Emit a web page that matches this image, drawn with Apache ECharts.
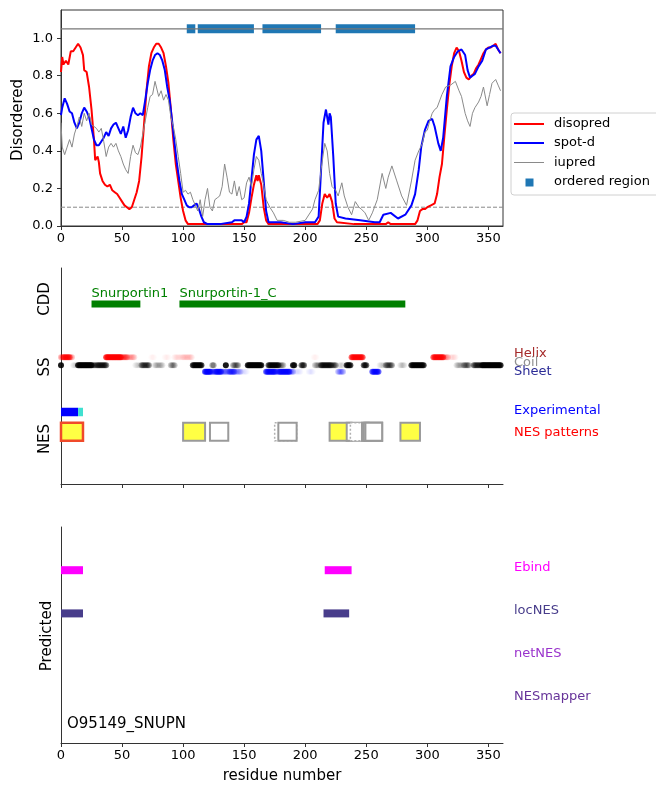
<!DOCTYPE html>
<html><head><meta charset="utf-8">
<script src="https://cdn.jsdelivr.net/npm/echarts@6/dist/echarts.min.js"></script>
<style>html,body{margin:0;padding:0;background:#fff}#c{width:656px;height:787px}</style>
</head><body><div id="c"></div>
<script>
// ---------------- data ----------------
const xTicks = [0, 50, 100, 150, 200, 250, 300, 350];
const yTicks = [0, 0.2, 0.4, 0.6, 0.8, 1.0];

const disopred = [[0,0.82],[1,0.9],[2,0.86],[4,0.88],[6,0.86],[8,0.93],[10,0.93],[12,0.95],[14,0.97],[16,0.95],[18,0.91],[19,0.83],[21,0.82],[23,0.74],[25,0.62],[27,0.46],[28,0.35],[30,0.37],[31,0.34],[32,0.28],[34,0.24],[36,0.22],[38,0.21],[40,0.22],[42,0.19],[44,0.18],[46,0.17],[48,0.15],[50,0.13],[52,0.11],[54,0.10],[56,0.09],[58,0.10],[60,0.14],[62,0.18],[64,0.24],[66,0.37],[68,0.54],[70,0.72],[72,0.85],[74,0.92],[76,0.95],[78,0.97],[80,0.97],[82,0.95],[84,0.92],[86,0.85],[88,0.76],[90,0.62],[92,0.46],[94,0.33],[96,0.24],[98,0.15],[100,0.08],[102,0.03],[104,0.01],[110,0.01],[120,0.01],[130,0.01],[140,0.01],[148,0.01],[150,0.02],[152,0.02],[154,0.07],[156,0.15],[158,0.22],[160,0.27],[161,0.24],[162,0.27],[164,0.22],[166,0.10],[168,0.03],[170,0.01],[180,0.01],[190,0.01],[200,0.01],[210,0.01],[212,0.03],[214,0.12],[216,0.17],[218,0.15],[220,0.17],[222,0.13],[224,0.04],[226,0.02],[240,0.01],[260,0.01],[266,0.01],[268,0.02],[270,0.01],[290,0.01],[292,0.03],[294,0.08],[296,0.09],[298,0.09],[300,0.10],[303,0.11],[306,0.12],[308,0.17],[310,0.26],[312,0.33],[314,0.48],[316,0.62],[318,0.75],[320,0.85],[322,0.92],[324,0.95],[326,0.93],[328,0.88],[330,0.82],[332,0.79],[334,0.78],[336,0.80],[338,0.81],[340,0.84],[342,0.86],[344,0.89],[346,0.92],[348,0.94],[350,0.95],[352,0.95],[354,0.96],[356,0.97],[358,0.94],[360,0.92]];

const spotd = [[0,0.59],[1,0.63],[3,0.68],[5,0.65],[7,0.61],[9,0.60],[11,0.55],[13,0.52],[15,0.55],[17,0.60],[19,0.63],[21,0.61],[23,0.58],[25,0.52],[27,0.46],[29,0.43],[31,0.43],[33,0.45],[35,0.47],[37,0.50],[39,0.48],[41,0.52],[43,0.54],[45,0.55],[47,0.52],[49,0.49],[51,0.53],[53,0.47],[55,0.51],[57,0.58],[59,0.63],[61,0.60],[63,0.59],[65,0.60],[67,0.59],[69,0.67],[71,0.76],[73,0.83],[75,0.88],[77,0.91],[79,0.92],[81,0.91],[83,0.88],[85,0.83],[87,0.74],[89,0.67],[91,0.56],[93,0.44],[95,0.33],[97,0.24],[99,0.17],[101,0.14],[103,0.11],[105,0.10],[107,0.10],[109,0.11],[111,0.12],[113,0.09],[115,0.05],[117,0.02],[120,0.01],[130,0.01],[140,0.02],[142,0.03],[145,0.03],[148,0.03],[150,0.02],[152,0.05],[154,0.12],[156,0.25],[158,0.38],[160,0.46],[162,0.48],[164,0.40],[166,0.24],[168,0.08],[170,0.02],[180,0.02],[190,0.01],[200,0.02],[208,0.02],[211,0.05],[213,0.30],[215,0.55],[217,0.62],[219,0.54],[220,0.60],[221,0.58],[223,0.37],[225,0.12],[227,0.05],[233,0.04],[245,0.03],[257,0.02],[261,0.02],[264,0.06],[270,0.07],[276,0.04],[282,0.06],[287,0.11],[290,0.17],[293,0.30],[295,0.42],[298,0.51],[301,0.56],[304,0.57],[306,0.53],[309,0.44],[311,0.40],[313,0.47],[316,0.69],[319,0.85],[322,0.90],[325,0.93],[328,0.94],[331,0.91],[333,0.83],[335,0.79],[337,0.80],[339,0.81],[342,0.85],[345,0.88],[348,0.94],[351,0.95],[354,0.96],[356,0.96],[358,0.94],[360,0.92]];

const iupred = [[0,0.55],[1,0.42],[3,0.38],[5,0.42],[7,0.46],[9,0.42],[11,0.49],[13,0.53],[15,0.58],[17,0.53],[19,0.60],[21,0.56],[23,0.60],[25,0.54],[27,0.53],[29,0.52],[31,0.50],[33,0.52],[35,0.45],[37,0.37],[39,0.42],[41,0.44],[43,0.42],[45,0.44],[47,0.40],[49,0.37],[51,0.33],[53,0.30],[55,0.28],[57,0.37],[59,0.43],[61,0.39],[63,0.38],[65,0.42],[67,0.49],[69,0.56],[71,0.63],[73,0.69],[75,0.70],[77,0.77],[78,0.78],[80,0.69],[82,0.72],[84,0.67],[86,0.70],[88,0.67],[90,0.58],[92,0.53],[94,0.46],[96,0.37],[98,0.28],[100,0.18],[102,0.19],[104,0.17],[106,0.18],[108,0.14],[110,0.11],[112,0.08],[114,0.14],[116,0.05],[118,0.14],[120,0.20],[122,0.10],[124,0.08],[126,0.14],[128,0.15],[130,0.16],[132,0.21],[134,0.33],[136,0.26],[138,0.18],[140,0.17],[142,0.24],[144,0.16],[146,0.21],[148,0.14],[150,0.15],[152,0.23],[154,0.26],[156,0.21],[158,0.30],[160,0.37],[162,0.35],[164,0.28],[166,0.22],[168,0.14],[171,0.10],[174,0.07],[177,0.03],[182,0.03],[187,0.02],[192,0.02],[200,0.03],[206,0.09],[208,0.14],[211,0.19],[213,0.30],[216,0.44],[218,0.40],[220,0.28],[222,0.21],[225,0.19],[227,0.16],[230,0.23],[232,0.16],[235,0.10],[238,0.06],[241,0.13],[244,0.10],[246,0.09],[249,0.07],[252,0.03],[255,0.07],[259,0.14],[263,0.28],[266,0.20],[268,0.26],[271,0.32],[275,0.24],[279,0.16],[283,0.11],[287,0.24],[290,0.35],[293,0.40],[296,0.44],[298,0.50],[300,0.51],[302,0.56],[304,0.60],[306,0.62],[308,0.63],[312,0.70],[315,0.74],[319,0.75],[323,0.77],[326,0.72],[328,0.69],[331,0.60],[333,0.56],[335,0.53],[337,0.60],[339,0.63],[342,0.66],[344,0.69],[346,0.74],[349,0.64],[351,0.70],[353,0.76],[356,0.78],[358,0.75],[360,0.72]];

const orderedRegions = [[103,110],[112,158],[165,213],[225,290]];
const disorderThreshold = 0.1;

const cddDomains = [['Snurportin1', 25, 65], ['Snurportin-1_C', 97, 282]];

// secondary structure: [start, end(exclusive), probability]
const ssHelix = [[0,2,0.25],[2,8,0.55],[8,10,0.2],[37,50,0.7],[50,55,0.3],[55,61,0.12],[74,77,0.02],[85,89,0.02],[93,100,0.04],[100,108,0.07],[207,210,0.02],[238,248,0.6],[305,314,0.6],[314,318,0.15],[319,324,0.04]];
const ssCoil = [[0,1,0.9],[10,14,0.05],[14,26,0.8],[26,30,0.3],[30,38,0.45],[61,66,0.05],[66,73,0.35],[77,84,0.1],[90,94,0.2],[108,116,0.7],[124,126,0.3],[135,136,0.9],[141,146,0.25],[153,165,0.8],[170,179,0.6],[179,183,0.2],[190,192,0.8],[197,200,0.5],[208,213,0.15],[213,222,0.5],[222,226,0.3],[228,232,0.05],[234,238,0.7],[248,251,0.6],[261,266,0.05],[266,272,0.3],[278,282,0.08],[287,298,0.7],[324,330,0.1],[330,335,0.25],[338,345,0.4],[345,361,0.8]];
const ssSheet = [[118,123,0.7],[123,127,0.3],[127,132,0.6],[132,138,0.2],[138,143,0.4],[143,148,0.15],[148,153,0.03],[168,176,0.6],[176,179,0.3],[179,188,0.6],[188,191,0.2],[191,197,0.03],[203,207,0.03],[227,232,0.2],[255,261,0.6]];

const nesExperimental = [[0,14]];
const nesExperimentalFlank = [[14,18]];
// [start, end, kind]
const nesPatterns = [[0,18,'match'],[100,118,'hit'],[122,137,'other'],[175,193,'weak'],[178,193,'other'],[220,238,'hit'],[234,252,'other'],[237,255,'weak'],[246.5,263,'other'],[248,263,'other'],[249.3,263,'other'],[278,294,'hit']];

const predEbind = [[0,18],[216,238]];
const predLocNES = [[0,18],[215,236]];
const predNetNES = [];
const predNESmapper = [];
const proteinName = 'O95149_SNUPN';

// ---------------- layout / style ----------------
const FONT = '"DejaVu Sans"';
const AX = '#333';
const X_MAX = 362;
const ROW = {cdd:5, helix:3.52, coil:3.3, sheet:3.12, exp:2, nes:1.45};
const PRED_ROW = {Ebind:4, locNES:3, netNES:2, NESmapper:1};

const chart = echarts.init(document.getElementById('c'));

function xAxisCfg(i, labels){
  return {type:'value', gridIndex:i, min:0, max:X_MAX, splitLine:{show:false},
    axisLine:{show:true, onZero:false, lineStyle:{color:AX, width:1}},
    axisTick:{show:true, length:4, customValues:xTicks, lineStyle:{color:AX}},
    axisLabel:{show:labels, customValues:xTicks, fontSize:13, fontFamily:'DejaVu Sans', color:'#000', margin:6}};
}
function yAxisPlain(i, max){
  return {type:'value', gridIndex:i, min:0, max:max, splitLine:{show:false},
    axisLine:{show:true, onZero:false, lineStyle:{color:AX, width:1}},
    axisTick:{show:false}, axisLabel:{show:false}};
}
function segRender(src, rowY, h, fill){
  return function(params, api){
    const d = src[params.dataIndex];
    const a = api.coord([d[0], rowY]); const b = api.coord([d[1], rowY]);
    return {type:'rect', shape:{x:a[0], y:a[1]-h/2, width:b[0]-a[0], height:h}, style:{fill:fill}};
  };
}
function segSeries(src, grid, rowY, h, fill, name){
  return {type:'custom', name:name, coordinateSystem:'cartesian2d', xAxisIndex:grid, yAxisIndex:grid,
    data: src.map(d=>[d[0], d[1]]), encode:{x:[0,1]}, renderItem: segRender(src, rowY, h, fill), silent:true};
}
function expand(segs, rowY){
  const out = [];
  segs.forEach(([s,e,p])=>{ for(let r=s; r<e; r++) out.push({value:[r,rowY], itemStyle:{opacity:p}}); });
  return out;
}
function ssSeries(segs, rowY, color){
  return {type:'scatter', xAxisIndex:1, yAxisIndex:1, symbol:'circle', symbolSize:6,
    itemStyle:{color:color, borderWidth:0}, data:expand(segs, rowY), silent:true};
}
const nesStyle = {
  match:{fill:'#ffff44', stroke:'#f04a2a', lineWidth:2.5},
  hit:{fill:'#ffff44', stroke:'#9a9a9a', lineWidth:2},
  other:{fill:'#ffffff', stroke:'#9a9a9a', lineWidth:2},
  weak:{fill:'#ffffff', stroke:'#b0b0b0', lineWidth:1.5, lineDash:[2,2]}
};

function txt(x, y, s, opts){
  opts = opts || {};
  return {type:'text', x:x, y:y, rotation:opts.rot||0, z:100,
    style:{text:s, fill:opts.color||'#000', font:(opts.size||13)+'px '+FONT,
      textAlign:opts.align||'left', align:opts.align||'left',
      textVerticalAlign:'middle', verticalAlign:'middle'}};
}

const option = {
  animation:false,
  backgroundColor:'#fff',
  grid:[
    {left:61, top:10, width:442, height:216, show:true, borderColor:AX, borderWidth:1},
    {left:61, top:268, width:442, height:216},
    {left:61, top:527, width:442, height:216}
  ],
  xAxis:[xAxisCfg(0,true), xAxisCfg(1,false), xAxisCfg(2,true)],
  yAxis:[
    {type:'value', gridIndex:0, min:0, max:1.15, splitLine:{show:false},
      axisLine:{show:true, onZero:false, lineStyle:{color:AX}},
      axisTick:{show:true, length:4, customValues:yTicks, lineStyle:{color:AX}},
      axisLabel:{customValues:yTicks, formatter:v=>v.toFixed(1), fontSize:13, fontFamily:'DejaVu Sans', color:'#000', margin:8}},
    yAxisPlain(1, 6),
    yAxisPlain(2, 5)
  ],
  series:[
    {type:'line', name:'ordered-axis', xAxisIndex:0, yAxisIndex:0, data:[[0,1.05],[X_MAX,1.05]], showSymbol:false, symbol:'none',
      lineStyle:{color:'#777', width:1.3}, silent:true},
    {type:'custom', name:'ordered region', coordinateSystem:'cartesian2d', xAxisIndex:0, yAxisIndex:0,
      data:orderedRegions.map(d=>[d[0],d[1]]), encode:{x:[0,1]}, silent:true,
      renderItem: segRender(orderedRegions, 1.05, 9, '#1f77b4')},
    {type:'line', name:'threshold', xAxisIndex:0, yAxisIndex:0, data:[[0,disorderThreshold],[X_MAX,disorderThreshold]], symbol:'none',
      lineStyle:{color:'#888', width:1, type:[4,2]}, silent:true},
    {type:'line', name:'disopred', xAxisIndex:0, yAxisIndex:0, data:disopred, symbol:'none', lineStyle:{color:'#ff0000', width:2}, silent:true},
    {type:'line', name:'spot-d', xAxisIndex:0, yAxisIndex:0, data:spotd, symbol:'none', lineStyle:{color:'#0000ff', width:2}, silent:true},
    {type:'line', name:'iupred', xAxisIndex:0, yAxisIndex:0, data:iupred, symbol:'none', lineStyle:{color:'#8a8a8a', width:1}, silent:true},

    {type:'custom', name:'CDD', coordinateSystem:'cartesian2d', xAxisIndex:1, yAxisIndex:1,
      data:cddDomains.map(d=>[d[1],d[2]]), encode:{x:[0,1]}, silent:true,
      renderItem:(params, api)=>{
        const d = cddDomains[params.dataIndex];
        const a = api.coord([d[1], ROW.cdd]); const b = api.coord([d[2], ROW.cdd]);
        return {type:'group', children:[
          {type:'rect', shape:{x:a[0], y:a[1]-3.5, width:b[0]-a[0], height:7}, style:{fill:'#008000'}},
          {type:'text', x:a[0], y:a[1]-4, style:{text:d[0], fill:'#008000', font:'13px '+FONT,
            textAlign:'left', align:'left', textVerticalAlign:'bottom', verticalAlign:'bottom'}}
        ]};
      }},
    ssSeries(ssHelix, ROW.helix, '#ff0000'),
    ssSeries(ssCoil, ROW.coil, '#000000'),
    ssSeries(ssSheet, ROW.sheet, '#0000ff'),
    segSeries(nesExperimental, 1, ROW.exp, 8.5, '#0000ff', 'Experimental'),
    segSeries(nesExperimentalFlank, 1, ROW.exp, 8.5, '#40e0d0', 'Experimental flank'),
    {type:'custom', name:'NES patterns', coordinateSystem:'cartesian2d', xAxisIndex:1, yAxisIndex:1,
      data:nesPatterns.map(d=>[d[0],d[1]]), encode:{x:[0,1]}, silent:true,
      renderItem:(params, api)=>{
        const d = nesPatterns[params.dataIndex];
        const a = api.coord([d[0], ROW.nes]); const b = api.coord([d[1], ROW.nes]);
        return {type:'rect', shape:{x:a[0], y:a[1]-9, width:b[0]-a[0], height:18}, style:Object.assign({}, nesStyle[d[2]])};
      }},

    segSeries(predEbind, 2, PRED_ROW.Ebind, 8, '#ff00ff', 'Ebind'),
    segSeries(predLocNES, 2, PRED_ROW.locNES, 8, '#483d8b', 'locNES'),
    segSeries(predNetNES, 2, PRED_ROW.netNES, 8, '#9932cc', 'netNES'),
    segSeries(predNESmapper, 2, PRED_ROW.NESmapper, 8, '#663399', 'NESmapper')
  ]
};
chart.setOption(option);

// text annotations (axis titles, row labels, legend)
const g = [];
g.push(txt(18, 120, 'Disordered', {rot:Math.PI/2, size:15, align:'center'}));
g.push(txt(45, 299, 'CDD', {rot:Math.PI/2, size:15, align:'center'}));
g.push(txt(45, 367, 'SS', {rot:Math.PI/2, size:15, align:'center'}));
g.push(txt(45, 439, 'NES', {rot:Math.PI/2, size:15, align:'center'}));
g.push(txt(47, 636, 'Predicted', {rot:Math.PI/2, size:15, align:'center'}));
g.push(txt(282, 776, 'residue number', {size:15, align:'center'}));
g.push(txt(67, 724, proteinName, {size:15}));

const rightLabels = [
  ['Helix', 354, '#a52a2a'], ['Coil', 362.5, '#909090'], ['Sheet', 371.5, '#2b2b96'],
  ['Experimental', 411, '#0000ff'], ['NES patterns', 433, '#ff0000'],
  ['Ebind', 568, '#ff00ff'], ['locNES', 611, '#483d8b'], ['netNES', 654, '#9932cc'], ['NESmapper', 697, '#663399']
];
rightLabels.forEach(([s,y,c])=>g.push(txt(514, y, s, {color:c})));

// legend
g.push({type:'rect', z:90, shape:{x:511, y:113, width:150, height:82, r:3}, style:{fill:'rgba(255,255,255,0.85)', stroke:'#d0d0d0', lineWidth:1}});
[['disopred','#ff0000',2,124],['spot-d','#0000ff',2,143],['iupred','#8a8a8a',1,162.5]].forEach(([s,c,w,y])=>{
  g.push({type:'line', z:95, shape:{x1:514, y1:y, x2:544, y2:y}, style:{stroke:c, lineWidth:w}});
  g.push(txt(554, y, s));
});
g.push({type:'rect', z:95, shape:{x:525.5, y:178.5, width:8, height:8}, style:{fill:'#1f77b4'}});
g.push(txt(554, 182, 'ordered region'));

chart.setOption({graphic:{elements:g}});
</script>
</body></html>
